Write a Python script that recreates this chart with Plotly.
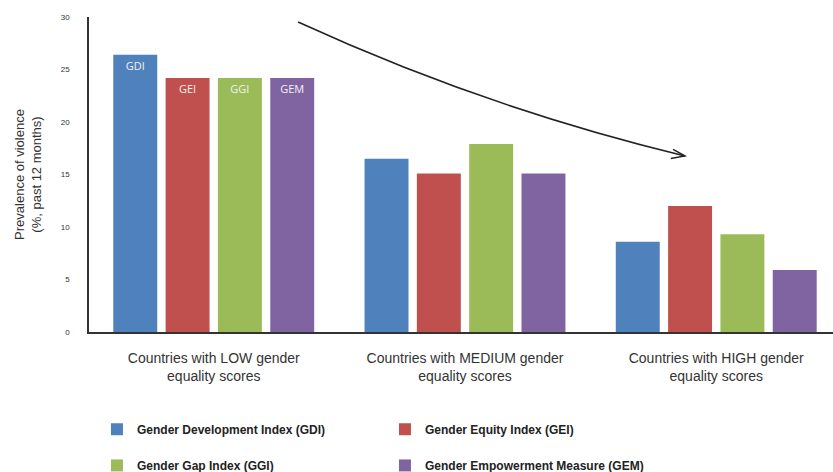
import plotly.graph_objects as go

categories = ["Countries with LOW gender<br>equality scores",
              "Countries with MEDIUM gender<br>equality scores",
              "Countries with HIGH gender<br>equality scores"]
series_names = ["Gender Development Index (GDI)", "Gender Equity Index (GEI)",
                "Gender Gap Index (GGI)", "Gender Empowerment Measure (GEM)"]
short_labels = ["GDI", "GEI", "GGI", "GEM"]
gdi = [26.4, 16.5, 8.6]
gei = [24.2, 15.1, 12.0]
ggi = [24.2, 17.9, 9.3]
gem = [24.2, 15.1, 5.9]
y_ticks = [0, 5, 10, 15, 20, 25, 30]

colors = ["#4F81BD", "#C0504D", "#9BBB59", "#8064A2"]
legends = ["legend", "legend", "legend2", "legend2"]

fig = go.Figure()
for name, lab, vals, col, lg in zip(series_names, short_labels, [gdi, gei, ggi, gem], colors, legends):
    fig.add_trace(go.Bar(
        x=categories, y=vals, name=name,
        marker=dict(color=col, line=dict(width=0)),
        text=[lab, "", ""], textposition="inside", insidetextanchor="end",
        textangle=0,
        textfont=dict(family="Open Sans", size=11, color="#f2f2f2"),
        legend=lg,
    ))

fig.update_layout(
    width=833, height=472,
    margin=dict(l=89, r=0, t=17, b=140, autoexpand=False),
    paper_bgcolor="white", plot_bgcolor="white",
    barmode="group", bargap=0.167, bargroupgap=0.16,
    font=dict(family="Liberation Sans, Arial, sans-serif", color="#333"),
    legend=dict(orientation="h", x=0.0107, y=-0.309, xanchor="left", yanchor="middle",
                entrywidth=243, font=dict(size=12, color="#222", weight="bold"),
                traceorder="normal"),
    legend2=dict(orientation="h", x=0.0107, y=-0.4236, xanchor="left", yanchor="middle",
                 entrywidth=243, font=dict(size=12, color="#222", weight="bold"),
                 traceorder="normal"),
    xaxis=dict(range=[-0.4965, 2.4647], showline=True, linecolor="#333", linewidth=2,
               ticks="", showgrid=False, tickfont=dict(size=14, color="#333"),
               ticklabelstandoff=12),
    yaxis=dict(range=[0, 30], tickvals=y_ticks, showline=True, linecolor="#333", linewidth=1.5,
               ticks="", showgrid=False, zeroline=False,
               tickfont=dict(size=8, color="#333"), ticklabelstandoff=16,
               title=dict(text="Prevalence of violence<br>(%, past 12 months)",
                          font=dict(size=13, color="#333"), standoff=16)),
    showlegend=True,
)

# curved trend arrow (decorative)
fig.add_shape(type="path", xref="paper", yref="paper",
              path="M 0.281,0.984 Q 0.532,0.712 0.801,0.559",
              line=dict(color="#222", width=1.5))
fig.add_shape(type="path", xref="paper", yref="paper",
              path="M 0.785,0.580 L 0.801,0.559 L 0.782,0.551",
              line=dict(color="#222", width=1.5))

fig.write_html("out.html")
